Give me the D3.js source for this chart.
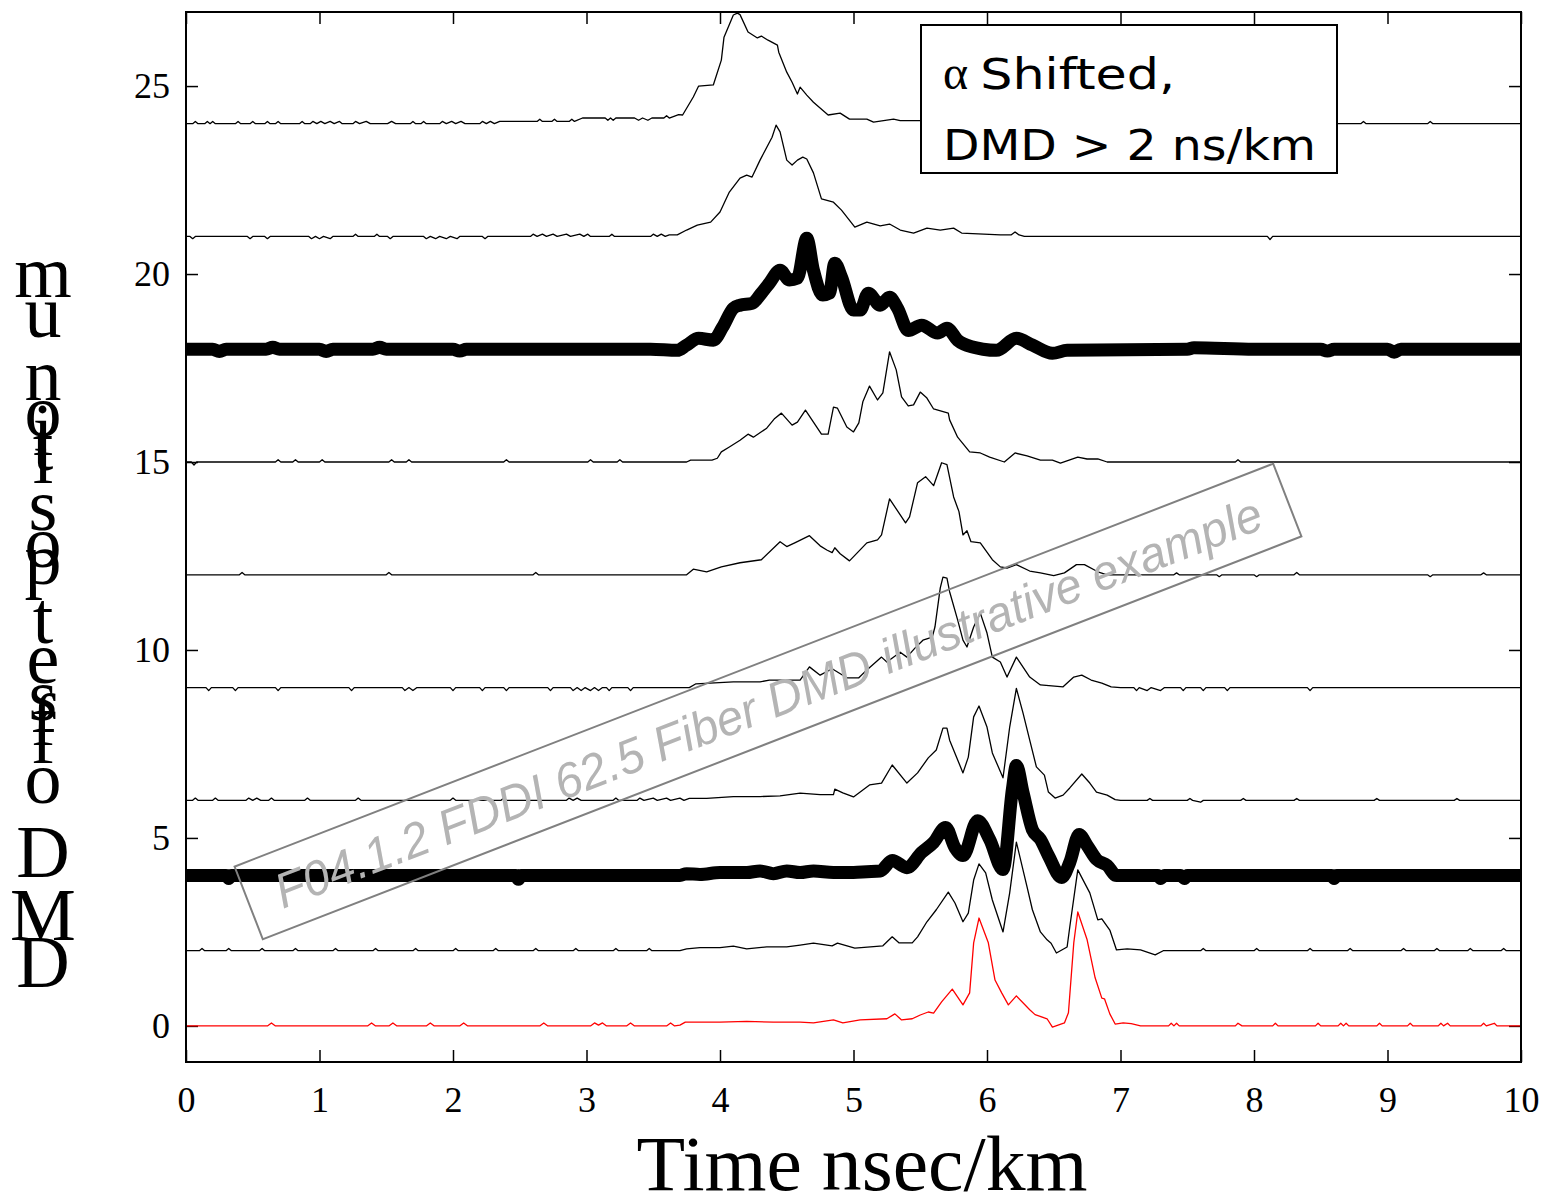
<!DOCTYPE html>
<html>
<head>
<meta charset="utf-8">
<script src="https://cdn.jsdelivr.net/npm/d3@7"></script>
<style>
  body { margin: 0; background: #fff; }
  .tick text { font-family: "Liberation Serif", "Times New Roman", serif; font-size: 36px; fill: #000; }
</style>
</head>
<body>
<svg id="chart" width="1545" height="1202"></svg>
<script>
// tick values
var xTicks = [0, 1, 2, 3, 4, 5, 6, 7, 8, 9, 10];
var yTicks = [0, 5, 10, 15, 20, 25];

// offset (um) of each DMD trace, bottom to top
var offsets = [0, 2, 4, 6, 9, 12, 15, 18, 21, 24];

// each trace: [time ns/km, pulse height above its offset]
var trace0 = [[0,0],[0.61,0],[0.64,0.08],[0.67,0],[1.36,0],[1.39,0.08],[1.42,0],[1.52,0],[1.55,0.08],[1.58,0],[1.80,0],[1.83,0.08],[1.86,0],[2.05,0],[2.08,0.08],[2.11,0],[2.65,0],[2.68,0.08],[2.71,0],[3.03,0],[3.06,0.08],[3.09,0.02],[3.12,0.08],[3.15,0],[3.30,0],[3.33,0.08],[3.36,0],[3.60,0],[3.63,0.08],[3.66,0],[3.70,0.02],[3.74,0.1],[4.0,0.1],[4.2,0.12],[4.4,0.1],[4.6,0.1],[4.7,0.08],[4.85,0.16],[4.92,0.08],[5.05,0.16],[5.25,0.19],[5.31,0.32],[5.36,0.16],[5.44,0.19],[5.5,0.29],[5.56,0.37],[5.6,0.34],[5.66,0.64],[5.74,0.98],[5.82,0.56],[5.87,0.88],[5.90,2.21],[5.94,2.87],[6.01,2.21],[6.06,1.22],[6.11,0.88],[6.16,0.56],[6.22,0.8],[6.32,0.43],[6.36,0.3],[6.45,0.19],[6.49,-0.03],[6.58,0.08],[6.61,0.35],[6.65,2.21],[6.68,3.03],[6.75,2.29],[6.81,1.28],[6.86,0.74],[6.88,0.72],[6.92,0.32],[6.96,0.05],[7.02,0.08],[7.08,0.06],[7.15,0],[7.36,0],[7.38,0.07],[7.40,0],[7.42,0.07],[7.44,0],[7.86,0],[7.88,0.07],[7.91,0],[8.14,0],[8.16,0.07],[8.18,0],[8.46,0],[8.48,0.07],[8.50,0],[8.63,0],[8.65,0.07],[8.67,0],[8.69,0.07],[8.71,0],[8.92,0],[8.94,0.07],[8.96,0],[9.15,0],[9.17,0.07],[9.19,0],[9.38,0],[9.40,0.07],[9.42,0],[9.45,0.07],[9.47,0],[9.70,0],[9.72,0.07],[9.74,0],[9.80,0.07],[9.82,0],[10,0]];

var trace2 = [[0,0],[0.1,0],[0.12,0.06],[0.14,0],[0.3,0],[0.32,0.06],[0.34,0],[0.55,0],[0.57,0.06],[0.59,0],[0.8,0],[0.82,0.06],[0.84,0],[1.1,0],[1.12,0.06],[1.14,0],[1.4,0],[1.42,0.06],[1.44,0],[1.7,0],[1.72,0.06],[1.74,0],[2.0,0],[2.02,0.06],[2.04,0],[2.3,0],[2.32,0.06],[2.34,0],[2.6,0],[2.62,0.06],[2.64,0],[2.9,0],[2.92,0.06],[2.94,0],[3.2,0],[3.22,0.06],[3.24,0],[3.45,0],[3.47,0.06],[3.49,0],[3.7,0],[3.75,0.05],[3.85,0.08],[4.0,0.08],[4.1,0.12],[4.2,0.05],[4.35,0.1],[4.5,0.1],[4.6,0.15],[4.7,0.2],[4.84,0.13],[4.88,0.2],[5.01,0.07],[5.22,0.13],[5.29,0.37],[5.34,0.21],[5.44,0.21],[5.48,0.37],[5.55,0.77],[5.62,1.09],[5.71,1.56],[5.76,1.27],[5.82,0.77],[5.86,1.0],[5.90,1.88],[5.94,2.31],[5.99,2.07],[6.04,1.35],[6.12,0.5],[6.17,1.54],[6.22,2.89],[6.30,1.7],[6.34,1.09],[6.40,0.5],[6.45,0.29],[6.48,0.2],[6.52,-0.06],[6.60,0.1],[6.62,0.63],[6.68,2.15],[6.77,1.54],[6.83,0.82],[6.86,0.85],[6.92,0.55],[6.97,0.02],[7.05,0.05],[7.15,0.02],[7.26,-0.11],[7.32,0],[7.6,0],[7.62,0.06],[7.64,0],[8.0,0],[8.02,0.06],[8.04,0],[8.4,0],[8.42,0.06],[8.44,0],[8.7,0],[8.72,0.06],[8.74,0],[9.1,0],[9.12,0.06],[9.14,0],[9.35,0],[9.37,0.06],[9.39,0],[9.6,0],[9.62,0.06],[9.64,0],[9.85,0],[9.87,0.06],[9.89,0],[10,0]];

var trace4 = [[0,0],[0.3,0],[0.32,-0.08],[0.34,0],[2.47,0],[2.49,-0.1],[2.51,0],[3.7,0],[3.75,0.05],[3.85,0.03],[4.0,0.08],[4.2,0.08],[4.3,0.12],[4.4,0.05],[4.5,0.12],[4.6,0.08],[4.7,0.12],[4.85,0.08],[5.0,0.08],[5.1,0.1],[5.2,0.12],[5.29,0.4],[5.40,0.21],[5.51,0.61],[5.60,0.88],[5.69,1.28],[5.76,0.74],[5.82,0.53],[5.93,1.46],[6.02,0.96],[6.12,0.16],[6.19,2.29],[6.22,2.93],[6.27,2.21],[6.34,1.22],[6.40,0.96],[6.46,0.53],[6.56,-0.05],[6.62,0.35],[6.69,1.09],[6.75,0.8],[6.82,0.43],[6.9,0.27],[6.97,0],[7.28,0],[7.3,-0.08],[7.33,0],[7.45,0],[7.48,-0.08],[7.5,0],[8.58,0],[8.6,-0.08],[8.62,0],[10,0]];

var trace6 = [[0,0],[0.05,0],[0.07,0.06],[0.09,0],[0.2,0],[0.22,0.06],[0.24,0],[0.45,0],[0.47,0.06],[0.5,0],[0.53,0.06],[0.56,0],[0.62,0],[0.64,0.06],[0.66,0],[0.89,0],[0.91,0.06],[0.93,0],[1.27,0],[1.29,0.06],[1.31,0],[1.98,0],[2.0,0.06],[2.02,0],[2.36,0],[2.38,0.06],[2.4,0],[2.85,0],[2.87,0.06],[2.9,0],[2.93,0.06],[2.96,0],[3.2,0],[3.22,0.06],[3.24,0],[3.38,0],[3.4,0.06],[3.43,0],[3.5,0.06],[3.53,0],[3.6,0.06],[3.63,0],[3.7,0.06],[3.73,0],[3.77,0.05],[3.9,0.05],[4.1,0.1],[4.3,0.1],[4.45,0.12],[4.6,0.19],[4.75,0.15],[4.85,0.15],[4.86,0.3],[4.92,0.2],[5.0,0.09],[5.12,0.41],[5.21,0.46],[5.29,0.94],[5.40,0.46],[5.48,0.73],[5.56,1.13],[5.62,1.34],[5.67,1.92],[5.70,1.92],[5.72,1.6],[5.82,0.73],[5.86,1.15],[5.90,2.22],[5.94,2.51],[6.0,1.95],[6.04,1.26],[6.12,0.6],[6.17,1.95],[6.22,2.98],[6.27,2.32],[6.32,1.6],[6.37,0.89],[6.43,0.67],[6.46,0.22],[6.51,0.06],[6.57,0.14],[6.62,0.33],[6.71,0.7],[6.77,0.46],[6.82,0.22],[6.9,0.14],[6.96,0.02],[7.0,0],[7.2,0],[7.22,0.05],[7.24,0],[7.5,0],[7.52,0.05],[7.54,0],[7.6,-0.05],[7.62,0],[7.9,0],[7.92,0.05],[7.94,0],[8.3,0],[8.32,0.05],[8.34,0],[8.9,0],[8.92,0.05],[8.94,0],[9.5,0],[9.52,0.05],[9.54,0],[10,0]];

var trace9 = [[0,0],[0.15,0],[0.17,-0.08],[0.19,0],[0.35,0],[0.37,-0.08],[0.39,0],[0.67,0],[0.69,-0.08],[0.71,0],[1.22,0],[1.24,-0.08],[1.26,0],[1.62,0],[1.64,-0.08],[1.67,0],[1.7,-0.08],[1.73,0],[1.98,0],[2.0,-0.08],[2.02,0],[2.2,0],[2.22,-0.08],[2.24,0],[2.38,0],[2.4,-0.08],[2.42,0],[2.71,0],[2.73,-0.08],[2.75,0],[2.88,0],[2.9,-0.08],[2.93,0],[2.96,-0.08],[2.99,0],[3.03,-0.08],[3.06,0],[3.09,-0.08],[3.12,0],[3.15,0],[3.17,-0.08],[3.19,0],[3.31,0],[3.33,-0.08],[3.35,0],[3.77,0],[3.82,0.1],[4.10,0.15],[4.3,0.15],[4.37,0.2],[4.60,0.2],[4.67,0.55],[4.75,0.33],[4.84,0.5],[4.95,0.26],[5.04,0.26],[5.10,0.47],[5.21,0.81],[5.25,0.68],[5.35,0.94],[5.40,0.81],[5.46,1.05],[5.52,1.26],[5.59,1.34],[5.61,1.61],[5.65,2.65],[5.67,2.94],[5.70,2.91],[5.72,2.55],[5.78,1.8],[5.82,1.26],[5.85,1.08],[5.90,1.61],[5.95,1.98],[6.0,1.45],[6.04,0.81],[6.10,0.68],[6.15,0.28],[6.22,0.81],[6.32,0.28],[6.40,0.07],[6.57,0.02],[6.65,0.28],[6.71,0.33],[6.78,0.2],[6.86,0.12],[6.93,0.02],[7.0,0],[7.1,0],[7.12,-0.08],[7.14,0],[7.2,-0.08],[7.23,0],[7.3,-0.08],[7.33,0],[7.45,0],[7.47,-0.08],[7.49,0],[7.6,0],[7.62,-0.08],[7.64,0],[7.78,0],[7.8,-0.08],[7.82,0],[8.4,0],[8.42,-0.08],[8.44,0],[10,0]];

var trace12 = [[0,0],[0.4,0],[0.42,0.06],[0.44,0],[1.5,0],[1.52,0.06],[1.54,0],[2.6,0],[2.62,0.06],[2.64,0],[3.75,0],[3.80,0.15],[3.9,0.08],[4.01,0.21],[4.15,0.32],[4.31,0.4],[4.45,0.88],[4.50,0.75],[4.56,0.85],[4.67,1.04],[4.75,0.77],[4.80,0.66],[4.84,0.59],[4.86,0.72],[4.90,0.56],[4.97,0.37],[5.10,0.85],[5.18,0.93],[5.21,1.06],[5.27,2.02],[5.39,1.38],[5.42,1.54],[5.48,2.45],[5.54,2.61],[5.60,2.37],[5.66,2.98],[5.70,2.93],[5.75,2.07],[5.79,1.68],[5.82,1.06],[5.85,1.17],[5.88,0.88],[5.95,0.85],[6.04,0.4],[6.10,0.21],[6.15,0.18],[6.22,0.27],[6.32,0.1],[6.40,0.05],[6.50,-0.02],[6.58,0.05],[6.67,0.27],[6.73,0.27],[6.83,0.08],[6.9,0],[7.4,0],[7.42,0.05],[7.44,0],[7.72,0],[7.74,-0.05],[7.76,0],[8.0,0],[8.02,-0.05],[8.04,0],[8.3,0],[8.32,0.06],[8.34,0],[9.3,0],[9.32,-0.05],[9.34,0],[9.7,0],[9.72,0.05],[9.74,0],[10,0]];

var trace15 = [[0,0],[0.04,0],[0.06,-0.08],[0.08,0],[0.67,0],[0.69,0.06],[0.71,0],[0.8,0],[0.82,0.06],[0.84,0],[1.0,0],[1.02,0.06],[1.04,0],[1.52,0],[1.54,0.06],[1.56,0],[1.65,0],[1.67,0.06],[1.69,0],[2.38,0],[2.4,0.06],[2.42,0],[3.01,0],[3.03,0.06],[3.05,0],[3.23,0],[3.25,0.06],[3.27,0],[3.75,0],[3.78,0.05],[3.94,0.05],[3.98,0.1],[4.01,0.27],[4.07,0.4],[4.15,0.58],[4.21,0.74],[4.25,0.66],[4.35,0.9],[4.41,1.16],[4.46,1.3],[4.54,0.98],[4.58,1.06],[4.64,1.38],[4.70,1.06],[4.76,0.74],[4.81,0.74],[4.85,1.46],[4.88,1.43],[4.95,0.93],[5.0,0.8],[5.04,1.04],[5.07,1.6],[5.12,2.02],[5.18,1.65],[5.22,1.84],[5.27,2.93],[5.32,2.45],[5.36,1.73],[5.41,1.49],[5.45,1.52],[5.50,1.86],[5.55,1.7],[5.60,1.41],[5.71,1.3],[5.72,1.12],[5.78,0.66],[5.87,0.27],[5.95,0.24],[6.02,0.13],[6.13,0],[6.21,0.24],[6.30,0.16],[6.40,0.05],[6.49,0.05],[6.55,-0.03],[6.68,0.13],[6.75,0.08],[6.83,0.08],[6.9,0],[7.86,0],[7.88,0.06],[7.9,0],[10,0]];

var trace18 = [[0,0],[0.2,0],[0.25,-0.06],[0.3,0],[0.6,0],[0.65,0.05],[0.7,0],[1.0,0],[1.05,-0.06],[1.1,0],[1.4,0],[1.45,0.05],[1.5,0],[2.0,0],[2.05,-0.05],[2.1,0],[3.48,0],[3.68,-0.03],[3.75,0.11],[3.84,0.29],[3.95,0.24],[4.02,0.59],[4.10,1.09],[4.15,1.17],[4.24,1.22],[4.31,1.49],[4.37,1.76],[4.45,2.10],[4.52,1.84],[4.58,1.89],[4.65,2.95],[4.70,2.10],[4.77,1.44],[4.82,1.49],[4.86,2.29],[4.91,1.92],[5.0,1.04],[5.05,1.04],[5.11,1.49],[5.20,1.17],[5.27,1.38],[5.33,1.09],[5.41,0.5],[5.51,0.64],[5.63,0.43],[5.70,0.56],[5.78,0.24],[5.90,0.05],[5.97,0],[6.07,-0.03],[6.22,0.29],[6.34,0.11],[6.49,-0.11],[6.60,-0.03],[7.5,0],[7.55,0.04],[8.0,0],[8.5,0],[8.55,-0.05],[8.6,0],[9.0,0],[9.05,-0.08],[9.1,0],[10,0]];

var trace21 = [[0,0],[0.03,0],[0.05,-0.06],[0.07,0],[0.46,0],[0.48,-0.06],[0.5,0],[0.59,0],[0.61,-0.06],[0.63,0],[0.92,0],[0.94,-0.06],[0.97,0],[1.0,-0.06],[1.03,0],[1.08,-0.06],[1.1,0],[1.25,0],[1.27,0.06],[1.29,0],[1.41,0],[1.43,0.06],[1.45,0],[1.51,0],[1.53,-0.06],[1.55,0],[1.78,0],[1.8,-0.06],[1.83,0],[1.87,-0.06],[1.9,0],[1.95,-0.06],[1.98,0],[2.03,-0.06],[2.05,0],[2.22,0],[2.24,-0.06],[2.26,0],[2.58,0],[2.6,0.06],[2.63,0],[2.67,0.06],[2.7,0],[2.75,0.06],[2.78,0],[2.85,0.06],[2.88,0],[2.95,0.06],[2.98,0],[3.01,0.06],[3.03,0],[3.17,0],[3.19,0.06],[3.21,0],[3.48,0],[3.5,0.06],[3.53,0],[3.56,0.06],[3.59,0],[3.62,0.04],[3.68,0.04],[3.75,0.17],[3.83,0.30],[3.93,0.38],[4.0,0.65],[4.07,1.18],[4.15,1.55],[4.20,1.63],[4.24,1.58],[4.30,2.03],[4.39,2.64],[4.42,2.96],[4.45,2.78],[4.50,2.03],[4.54,1.9],[4.58,2.03],[4.62,2.11],[4.65,2.06],[4.70,1.69],[4.76,1.0],[4.85,0.91],[4.91,0.70],[5.01,0.25],[5.10,0.38],[5.20,0.28],[5.27,0.33],[5.35,0.17],[5.45,0.09],[5.55,0.22],[5.65,0.17],[5.75,0.22],[5.81,0.09],[6.1,0.04],[6.18,0.04],[6.21,0.12],[6.24,0.04],[6.28,0],[8.1,0],[8.12,-0.08],[8.14,0],[10,0]];

var trace24 = [[0,0],[0.05,0],[0.07,0.06],[0.09,0],[0.14,0],[0.16,0.06],[0.18,0],[0.2,0.06],[0.22,0],[0.37,0],[0.39,0.06],[0.41,0],[0.48,0],[0.5,0.06],[0.52,0],[0.59,0],[0.61,0.06],[0.63,0],[0.67,0],[0.69,0.06],[0.71,0],[0.85,0],[0.87,0.06],[0.89,0],[0.93,0],[0.95,0.06],[0.98,0],[1.01,0.06],[1.04,0],[1.08,0.06],[1.11,0],[1.15,0.06],[1.17,0],[1.25,0],[1.27,0.06],[1.3,0],[1.35,0.06],[1.38,0],[1.51,0],[1.54,0.06],[1.57,0],[1.68,0],[1.7,0.06],[1.72,0],[1.76,0],[1.78,0.06],[1.8,0],[1.9,0],[1.92,0.06],[1.95,0],[1.99,0.06],[2.02,0],[2.06,0.06],[2.09,0],[2.2,0],[2.22,0.06],[2.25,0],[2.28,0.06],[2.31,0],[2.35,0.06],[2.63,0.06],[2.65,0.12],[2.67,0.06],[2.74,0.06],[2.76,0.12],[2.78,0.06],[2.87,0.06],[2.89,0.12],[2.91,0.06],[2.97,0.15],[3.14,0.15],[3.16,0.09],[3.18,0.15],[3.2,0.09],[3.22,0.15],[3.36,0.15],[3.39,0.09],[3.42,0.15],[3.46,0.09],[3.49,0.15],[3.58,0.15],[3.6,0.21],[3.62,0.15],[3.69,0.24],[3.72,0.23],[3.8,0.71],[3.84,1.0],[3.95,1.03],[4.01,1.69],[4.03,2.30],[4.10,2.89],[4.13,2.94],[4.15,2.9],[4.21,2.44],[4.28,2.28],[4.31,2.33],[4.36,2.22],[4.43,2.09],[4.44,1.9],[4.50,1.37],[4.54,1.1],[4.58,0.79],[4.60,0.97],[4.65,0.76],[4.70,0.57],[4.81,0.23],[4.90,0.28],[4.97,0.12],[5.1,0.12],[5.15,0.04],[5.3,0.12],[5.35,0.08],[5.5,0.08],[5.6,0.03],[5.65,0.08],[5.75,0],[6.0,0],[6.02,-0.06],[6.04,0],[6.2,0.06],[6.25,0],[8.8,0],[8.82,0.06],[8.84,0],[9.3,0],[9.32,0.06],[9.34,0],[10,0]];

var traces = [trace0, trace2, trace4, trace6, trace9, trace12, trace15, trace18, trace21, trace24];

var legendLines = ["Shifted,", "DMD > 2 ns/km"];
var watermark = "F04.1.2 FDDI 62.5 Fiber DMD illustrative example";
var xTitle = "Time nsec/km";
var yTitle = "DMD offset position um";

var svg = d3.select("#chart");
var plotL = 186, plotR = 1521, plotT = 12, plotB = 1062;

var x = d3.scaleLinear().domain([0, 10]).range([plotL, plotR]);
var y = d3.scaleLinear().domain([-0.96, 26.97]).range([plotB, plotT]);

svg.append("defs").append("clipPath").attr("id", "plotclip")
  .append("rect").attr("x", plotL).attr("y", plotT).attr("width", plotR - plotL).attr("height", plotB - plotT);

// axes, ticks pointing inward on all four sides
var gx = svg.append("g").attr("transform", "translate(0," + plotB + ")")
  .call(d3.axisBottom(x).tickValues(xTicks).tickSizeInner(-12).tickSizeOuter(0).tickPadding(24));
var gy = svg.append("g").attr("transform", "translate(" + plotL + ",0)")
  .call(d3.axisLeft(y).tickValues(yTicks).tickSizeInner(-12).tickSizeOuter(0).tickPadding(16));
var gt = svg.append("g").attr("transform", "translate(0," + plotT + ")")
  .call(d3.axisTop(x).tickValues(xTicks).tickSizeInner(-12).tickSizeOuter(0).tickFormat(""));
var gr = svg.append("g").attr("transform", "translate(" + plotR + ",0)")
  .call(d3.axisRight(y).tickValues(yTicks).tickSizeInner(-12).tickSizeOuter(0).tickFormat(""));
[gx, gy, gt, gr].forEach(function(g) {
  g.select(".domain").remove();
  g.selectAll(".tick line").attr("stroke", "#000").attr("stroke-width", 1.5);
});

// traces: thin ones as plain polylines, the two highlighted ones thick and smoothed
var thinLine = d3.line().x(function(d) { return x(d[0]); }).y(function(d) { return y(d[1]); });
var thickLine = d3.line().curve(d3.curveMonotoneX)
  .x(function(d) { return x(d[0]); }).y(function(d) { return y(d[1]); });
var plot = svg.append("g").attr("clip-path", "url(#plotclip)");
traces.forEach(function(tr, i) {
  var base = offsets[i];
  var thick = (base === 4 || base === 18);
  plot.append("path")
    .datum(tr.map(function(p) { return [p[0], base + p[1]]; }))
    .attr("d", thick ? thickLine : thinLine)
    .attr("fill", "none")
    .attr("stroke", base === 0 ? "#ff0000" : "#000")
    .attr("stroke-width", thick ? 13 : 1.3)
    .attr("stroke-linejoin", "round")
    .attr("stroke-linecap", "round");
});

// frame
svg.append("rect").attr("x", plotL).attr("y", plotT).attr("width", plotR - plotL).attr("height", plotB - plotT)
  .attr("fill", "none").attr("stroke", "#000").attr("stroke-width", 2);

// legend box
svg.append("rect").attr("x", 921).attr("y", 25).attr("width", 416).attr("height", 148)
  .attr("fill", "#fff").attr("stroke", "#000").attr("stroke-width", 2);
var l1 = svg.append("text").attr("x", 943).attr("y", 89)
  .attr("font-family", "'DejaVu Sans', Verdana, sans-serif").attr("font-size", 42);
l1.append("tspan").attr("font-family", "'Liberation Serif', serif").attr("font-size", 48).text("\u03b1");
l1.append("tspan").attr("dx", 12).attr("textLength", 195).attr("lengthAdjust", "spacingAndGlyphs").text(legendLines[0]);
svg.append("text").attr("x", 943).attr("y", 160)
  .attr("font-family", "'DejaVu Sans', Verdana, sans-serif").attr("font-size", 42)
  .attr("textLength", 373).attr("lengthAdjust", "spacingAndGlyphs")
  .text(legendLines[1]);

// axis titles
svg.append("text").attr("x", 862).attr("y", 1190).attr("text-anchor", "middle")
  .attr("font-family", "'Liberation Serif', serif").attr("font-size", 78)
  .attr("textLength", 451).attr("lengthAdjust", "spacingAndGlyphs")
  .text(xTitle);

// y title: upright glyphs stacked bottom to top
var yGlyphs = [["D",987],["M",940],["D",877],["o",803],["f",763],["f",745],["s",720],["e",683],["t",643],
  ["p",584],["o",567],["s",530],["i",483],["t",470],["i",455],["o",436],["n",400],["u",337],["m",297]];
var yt = svg.append("g").attr("font-family", "'Liberation Serif', serif").attr("font-size", 74).attr("text-anchor", "middle");
yt.append("title").text(yTitle);
yt.selectAll("text.g").data(yGlyphs).enter().append("text").attr("class", "g")
  .attr("x", 43).attr("y", function(d) { return d[1]; }).text(function(d) { return d[0]; });

// watermark
var wm = svg.append("g").attr("transform", "translate(768,701.5) rotate(-21.2)");
wm.append("rect").attr("x", -557).attr("y", -39).attr("width", 1114).attr("height", 78)
  .attr("fill", "none").attr("stroke", "#808080").attr("stroke-width", 2);
wm.append("text").attr("x", 0).attr("y", 18).attr("text-anchor", "middle")
  .attr("font-family", "'Liberation Sans', Arial, sans-serif").attr("font-size", 49).attr("font-style", "italic")
  .attr("fill", "#b4b4b4").attr("textLength", 1055).attr("lengthAdjust", "spacingAndGlyphs")
  .text(watermark);
</script>
</body>
</html>
